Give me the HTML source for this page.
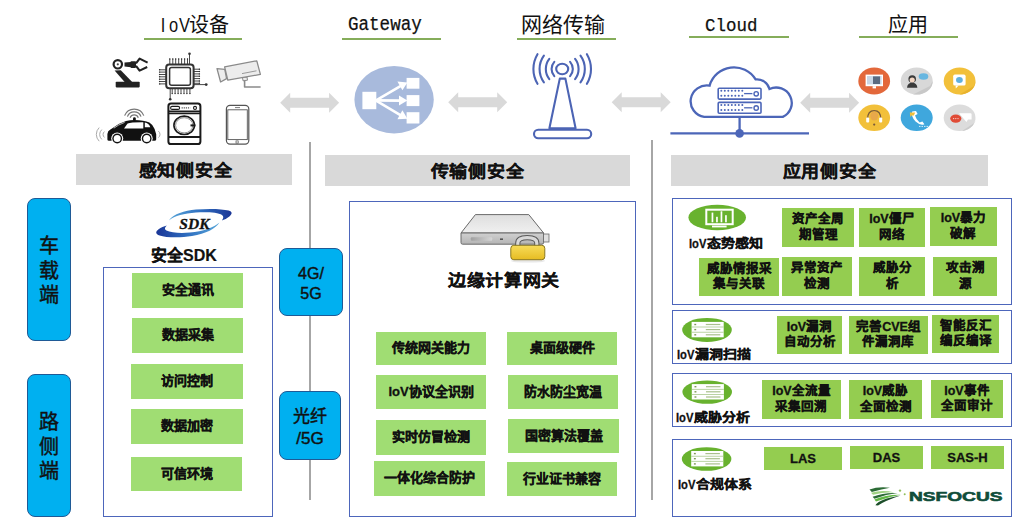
<!DOCTYPE html>
<html lang="zh-CN"><head><meta charset="utf-8">
<style>
*{margin:0;padding:0;box-sizing:border-box}
html,body{width:1024px;height:529px;background:#fff;overflow:hidden}
body{position:relative;font-family:"Liberation Sans",sans-serif;color:#111}
.a{position:absolute}
.hd{position:absolute;font-size:20px;line-height:20px;white-space:nowrap;color:#111;font-weight:500}
.mono{font-family:"Liberation Mono",monospace;-webkit-text-stroke:0.25px #111}
.iov{display:inline-block;white-space:nowrap}
.lv{display:inline-block;width:18px;white-space:nowrap}
.lv b{display:inline-block;transform:scaleX(0.8);transform-origin:0 50%;font-weight:700}
.iov i{font-style:normal;display:inline-block;width:10.2px;text-align:center;transform:scaleX(0.82)}
.gl{position:absolute;height:2px;background:#85ad5a}
.bar{position:absolute;background:#d9d9d9;display:flex;align-items:center;justify-content:center;font-size:18px;font-weight:700;color:#111;letter-spacing:0.8px;-webkit-text-stroke:0.2px #111}
.bar span{display:inline-block;transform:scaleY(0.9);position:relative;top:-1px}
.vl{position:absolute;width:2px;background:#a6a6a6}
.pill{position:absolute;background:#00b0f0;border:1.2px solid #1f5a96;border-radius:8px;display:flex;align-items:center;justify-content:center;text-align:center;color:#111;-webkit-text-stroke:0.45px #111}
.bx{position:absolute;border:1.6px solid #4d66bb}
.g{position:absolute;background:#a0dd73;display:flex;align-items:center;justify-content:center;text-align:center;font-size:13px;font-weight:700;color:#111;white-space:nowrap;-webkit-text-stroke:0.3px #111}
.g:not(.r){padding-bottom:4px}
.r{background:#94cd50;font-size:12.5px;line-height:15.4px}
.lbl{position:absolute;font-size:14px;font-weight:700;white-space:nowrap;color:#111;line-height:14px;transform:scaleY(0.88);-webkit-text-stroke:0.3px #111}
</style></head><body>

<!--SVGSTART-->
<svg class="a" style="left:0;top:0" width="1024" height="529" viewBox="0 0 1024 529">
<polygon fill="#d9d9d9" points="280.2,102.7 290.2,92.7 290.2,97.7 329.1,97.7 329.1,92.7 339.1,102.7 329.1,112.7 329.1,107.7 290.2,107.7 290.2,112.7"/>
<polygon fill="#d9d9d9" points="448.2,102.3 458.2,92.3 458.2,97.3 497.2,97.3 497.2,92.3 507.2,102.3 497.2,112.3 497.2,107.3 458.2,107.3 458.2,112.3"/>
<polygon fill="#d9d9d9" points="611.7,102.3 621.7,92.3 621.7,97.3 660.7,97.3 660.7,92.3 670.7,102.3 660.7,112.3 660.7,107.3 621.7,107.3 621.7,112.3"/>
<polygon fill="#d9d9d9" points="800.2,102.7 810.2,92.7 810.2,97.7 849.1,97.7 849.1,92.7 859.1,102.7 849.1,112.7 849.1,107.7 810.2,107.7 810.2,112.7"/>
<g id="robot" fill="#222" stroke="none">
<circle cx="117.8" cy="64.3" r="4.2" fill="#fff" stroke="#222" stroke-width="2.2"/>
<circle cx="117.8" cy="64.3" r="1.1" fill="#444"/>
<polygon points="124.5,62.6 131,62 131,67.2 124.5,66.6"/>
<rect x="130.5" y="61.3" width="5.5" height="6.6" rx="0.8"/>
<path d="M136,63.3 L139.6,58.6 L147.6,62.6" fill="none" stroke="#222" stroke-width="2.1" stroke-linejoin="round"/>
<path d="M136,65.8 L139.6,70.6 L147.2,67" fill="none" stroke="#222" stroke-width="2.1" stroke-linejoin="round"/>
<polygon points="114.6,70.4 120.8,70.2 132.2,81.9 124.6,82"/>
<rect x="115.7" y="81.8" width="24" height="5.6" rx="0.8"/>
</g>
<g id="cam" stroke="#8a8a8a" stroke-width="1.3" fill="#ececec" stroke-linejoin="round">
<path d="M244.6,78.6 L244.6,87 L260.6,87" fill="none" stroke-width="1.6"/>
<polygon points="242.5,77.6 247,77 247.5,80.2 243,80.8" stroke-width="1"/>
<polygon points="217,68.6 224.8,69.4 226.6,78.6 220.6,82"/>
<polygon points="224.6,66.8 256.8,60.8 260.4,74.4 227.8,80.2"/>
<line x1="242" y1="73.6" x2="256.5" y2="70.8" stroke="#999" stroke-width="1"/>
</g>
<g id="car">
<g fill="none" stroke="#777" stroke-width="1.2">
<path d="M130.1,117.7 A4.4,4.4 0 0 1 138.3,117.7"/>
<path d="M127.4,116.6 A7.3,7.3 0 0 1 141,116.6"/>
<path d="M124.6,115.6 A10.3,10.3 0 0 1 143.8,115.6"/>
</g>
<g fill="none" stroke="#aaa" stroke-width="1">
<path d="M104.4,131.6 A3.8,3.8 0 0 0 104.4,137.4"/>
<path d="M101.8,129.6 A6.7,6.7 0 0 0 101.8,139.4"/>
<path d="M99.2,127.6 A9.5,9.5 0 0 0 99.2,141.2"/>
<path d="M158.4,131.2 A4,4 0 0 1 158.4,137.6"/>
</g>
<path fill="#111" d="M133,120.6 L133,118.6 Q133,117.2 134.4,117.2 Q135.8,117.2 135.8,118.6 L135.8,120.6 Z"/>
<path fill="#111" d="M107.4,139.4 L107.4,134 Q107.6,131 110.4,129.6 L112,128.4 Q118.5,123.4 126,121.1 Q130,120 134.4,120 Q144,120 149.4,122.6 Q153.4,125.2 154.6,129 L156.2,134.2 L156.2,139.4 Q156,140.8 154.6,140.8 L109,140.8 Q107.4,140.8 107.4,139.4 Z"/>
<path fill="#fff" d="M124,128.4 L127.6,123.6 Q131,122.2 143.3,122.3 L143.3,128.4 Z"/>
<path fill="#fff" d="M144.8,122.4 Q148.8,122.8 150.3,127.2 L144.8,127.2 Z"/>
<path fill="none" stroke="#fff" stroke-width="0.7" d="M113.8,128.2 Q118,124.8 124.6,122.4"/>
<circle cx="117.2" cy="138.5" r="6" fill="#fff"/>
<circle cx="117.2" cy="138.5" r="4.9" fill="#111"/>
<circle cx="117.2" cy="138.5" r="3.5" fill="#fff"/>
<circle cx="146.7" cy="138.5" r="6" fill="#fff"/>
<circle cx="146.7" cy="138.5" r="4.9" fill="#111"/>
<circle cx="146.7" cy="138.5" r="3.5" fill="#fff"/>
</g>
<g id="wash" fill="none" stroke="#1a1a1a">
<rect x="168.4" y="103.6" width="32" height="40.4" rx="2.6" stroke-width="2"/>
<line x1="168.4" y1="111.2" x2="200.4" y2="111.2" stroke-width="1.6"/>
<line x1="168.4" y1="113.4" x2="200.4" y2="113.4" stroke-width="1.6"/>
<line x1="168.4" y1="137" x2="200.4" y2="137" stroke-width="1.8"/>
<ellipse cx="184.2" cy="125.3" rx="10.3" ry="9.2" stroke-width="1.6"/>
<ellipse cx="184.2" cy="125.3" rx="8.6" ry="7.6" stroke="#666" stroke-width="0.7"/>
<rect x="190.5" y="124.4" width="5" height="2" fill="#1a1a1a" stroke="none"/>
<rect x="170.6" y="106.4" width="9" height="3" rx="1.5" stroke-width="1.1"/>
<circle cx="195" cy="107.9" r="1.5" stroke-width="1.1"/>
<line x1="181.6" y1="107.9" x2="190.2" y2="107.9" stroke="#555" stroke-width="1.3" stroke-dasharray="1.2,0.9"/>
</g>
<g id="phone" fill="none" stroke="#555" stroke-width="1.2">
<rect x="226.4" y="105.4" width="22.4" height="38.8" rx="3.6"/>
<rect x="227.8" y="109.8" width="19.5" height="29.8" stroke-width="0.9"/>
<line x1="235" y1="107.6" x2="240" y2="107.6" stroke-width="0.8"/>
<rect x="236" y="140.9" width="2.2" height="2.2" stroke-width="0.7"/>
</g>
<g id="gw">
<ellipse cx="394.1" cy="99.7" rx="39.7" ry="33.7" fill="#a8badc"/>
<g fill="#fff">
<rect x="362.4" y="91.8" width="13.9" height="17.4"/>
<rect x="406.6" y="77.9" width="12.8" height="10.8"/>
<rect x="406.6" y="95.1" width="12.8" height="11"/>
<rect x="406.6" y="112.2" width="12.8" height="11.3"/>
</g>
<g stroke="#fff" stroke-width="2.6" fill="none" stroke-linecap="round">
<line x1="376.5" y1="100.2" x2="400" y2="86.4"/>
<line x1="376.5" y1="100.4" x2="400" y2="100.6"/>
<line x1="376.5" y1="100.8" x2="400" y2="114.8"/>
</g>
<g fill="#fff">
<polygon points="407.4,82.6 397.4,81.4 402.4,90.2"/>
<polygon points="407.4,100.6 399,95.6 399,105.6"/>
<polygon points="407.4,118.8 402.4,110.2 397.4,119.2"/>
</g>
</g>
<g id="apps">
<ellipse cx="874.2" cy="81" rx="15.9" ry="13.6" fill="#e3683b"/>
<rect x="865.6" y="74.6" width="17.4" height="11.6" fill="#fff"/>
<rect x="867" y="76" width="14.6" height="8.4" fill="#c9d7e6"/>
<rect x="873" y="76.4" width="7" height="7.6" fill="#5a6a80"/>
<rect x="872.6" y="86.2" width="3.4" height="2.2" fill="#fff"/>
<ellipse cx="916.7" cy="81" rx="16" ry="13.6" fill="#d8d8d8"/>
<path d="M913,94.6 L930,86 L932.7,81 A16,13.6 0 0 1 920,94.4 Z" fill="#c8c8c8"/>
<ellipse cx="923.5" cy="76.5" rx="4.8" ry="3.2" fill="#67b6e0"/>
<path d="M907,87.8 Q907.5,83 912.2,82.6 Q916.8,83 917.4,87.8 Z" fill="#3a3a3a"/>
<circle cx="912.2" cy="79" r="3.8" fill="#3a3a3a"/>
<ellipse cx="912.2" cy="80" rx="2.6" ry="2.5" fill="#f3d7c4"/>
<ellipse cx="959.6" cy="81" rx="15.9" ry="13.6" fill="#f2c03a"/>
<path d="M959.6,94.6 L974,86 L975.5,81 A15.9,13.6 0 0 1 962,94.4 Z" fill="#e8b22c"/>
<rect x="953.2" y="74.6" width="12.4" height="11" rx="1.6" fill="#fff"/>
<polygon points="955.6,85.6 958.6,85.6 955.8,88.4" fill="#fff"/>
<ellipse cx="959.4" cy="80" rx="3.4" ry="2.9" fill="#5fb0de"/>
<ellipse cx="874.2" cy="117.8" rx="15.9" ry="13.2" fill="#f2c03a"/>
<path d="M867.6,119 Q867.6,110.6 874.2,110.6 Q880.8,110.6 880.8,119" fill="none" stroke="#7a5a3a" stroke-width="1.3"/>
<rect x="866.2" y="117.6" width="3" height="5" rx="1" fill="#fff"/>
<rect x="879.2" y="117.6" width="3" height="5" rx="1" fill="#fff"/>
<ellipse cx="874.2" cy="116" rx="4" ry="4.6" fill="#e8a84a"/>
<circle cx="874.2" cy="124.6" r="1.1" fill="#7a5a3a"/>
<ellipse cx="916.7" cy="117.8" rx="16" ry="13.2" fill="#3fa7dd"/>
<path d="M912.2,111.4 Q910.6,116 915.6,121.6 Q920.4,126 924.4,124.2 L922.4,121.6 L919.6,122.4 Q916.2,119.8 915,115.6 L917.6,114 L916,111 Z" fill="#fff"/>
<path d="M909.8,112.6 L915.2,112.6 L913.8,115.6 L911.6,115.6 L910.4,117 Z" fill="#f2c03a"/>
<line x1="919" y1="126.4" x2="928" y2="126.4" stroke="#fff" stroke-width="0.8" stroke-dasharray="1.5,1"/>
<ellipse cx="959.6" cy="117.8" rx="15.9" ry="13.2" fill="#dcdcdc"/>
<path d="M962,131 L975,122.6 L975.5,117.8 A15.9,13.2 0 0 1 964,130.8 Z" fill="#cbcbcb"/>
<path d="M959,113.2 L970.6,113.2 Q971.6,113.2 971.6,114.4 L971.6,119.6 L968,119.6 L966.4,122 Z" fill="#fff"/>
<ellipse cx="955.8" cy="118.6" rx="5.6" ry="4.2" fill="#e04b36"/>
<g fill="#f8d0c8"><circle cx="953.6" cy="118.6" r="0.7"/><circle cx="955.8" cy="118.6" r="0.7"/><circle cx="958" cy="118.6" r="0.7"/></g>
</g>
<g id="srv">
<defs>
<linearGradient id="gtop" x1="0" y1="0" x2="0" y2="1"><stop offset="0" stop-color="#dedede"/><stop offset="1" stop-color="#f0f0f0"/></linearGradient>
<linearGradient id="gfr" x1="0" y1="0" x2="0" y2="1"><stop offset="0" stop-color="#d0d0d0"/><stop offset="1" stop-color="#b4b4b4"/></linearGradient>
<linearGradient id="glk" x1="0" y1="0" x2="0" y2="1"><stop offset="0" stop-color="#f7dc5a"/><stop offset="1" stop-color="#e6bc22"/></linearGradient>
<linearGradient id="gsl" x1="0" y1="0" x2="1" y2="0"><stop offset="0" stop-color="#a0a0a0"/><stop offset="1" stop-color="#d6d6d6"/></linearGradient>
</defs>
<path d="M475.4,214.6 L528.8,214.6 L543.6,233 L461,233 Z" fill="url(#gtop)" stroke="#6a6a6a" stroke-width="1" stroke-linejoin="round"/>
<path d="M461,233 L543.6,233 L543.6,242.6 Q543.6,244.2 542,244.2 L462.6,244.2 Q461,244.2 461,242.6 Z" fill="url(#gfr)" stroke="#6a6a6a" stroke-width="1"/>
<rect x="543.6" y="234" width="5.4" height="8" fill="#e0e0e0" stroke="#6a6a6a" stroke-width="0.8"/>
<rect x="470.8" y="237.2" width="21.4" height="3.6" rx="1" fill="url(#gsl)"/>
<rect x="500" y="238.4" width="3" height="1.6" fill="#555"/>
<path d="M517.8,246 L517.8,243 Q517.8,237.6 527.2,237.6 Q536.8,237.6 536.8,243 L536.8,246" fill="none" stroke="#5a5a5a" stroke-width="5.2"/>
<path d="M517.8,246 L517.8,243 Q517.8,237.6 527.2,237.6 Q536.8,237.6 536.8,243 L536.8,246" fill="none" stroke="#d8d8d8" stroke-width="3.2"/>
<ellipse cx="528" cy="261" rx="17" ry="1.6" fill="#d8d8d8" opacity="0.6"/>
<rect x="510.8" y="245.3" width="34" height="14.4" rx="3" fill="url(#glk)" stroke="#8a7820" stroke-width="1"/>
</g>
<g id="sdk">
<defs>
<linearGradient id="gsw1" x1="168" y1="0" x2="232" y2="0" gradientUnits="userSpaceOnUse"><stop offset="0" stop-color="#5aa8da"/><stop offset="0.5" stop-color="#2f6fc0"/><stop offset="1" stop-color="#1a3596"/></linearGradient>
<linearGradient id="gsw2" x1="156" y1="0" x2="220" y2="0" gradientUnits="userSpaceOnUse"><stop offset="0" stop-color="#1a3596"/><stop offset="0.5" stop-color="#2f6fc0"/><stop offset="1" stop-color="#5aa8da"/></linearGradient>
</defs>
<path fill="url(#gsw1)" d="M168.8,220.4 C174,214 184,210.6 196,209.6 C208,208.6 222,208.8 228.6,210.6 C232.6,211.8 232.4,214 229.4,216.4 C227,218.2 224.4,219.6 221.8,220.6 C223.4,218.6 224,216.6 222,215 C218,212.4 206,212 196,212.6 C184,213.4 175,216 168.8,220.4 Z"/>
<path fill="url(#gsw2)" d="M219.4,222.4 C216,228.4 206,233.6 192,236 C180,238 166,237.6 159.6,235.4 C155.4,234 155.2,231.6 158.6,229.2 C161,227.6 163.8,226.4 166.8,225.6 C164.6,227.6 164.2,229.4 166.4,230.6 C171,232.8 180,233.4 190,232.6 C203,231.4 214,227.4 219.4,222.4 Z"/>
<text x="194.4" y="228.6" text-anchor="middle" font-family="Liberation Serif" font-style="italic" font-weight="700" font-size="15.5" fill="#111" stroke="#111" stroke-width="0.3">SDK</text>
</g>
<g id="icons">
<ellipse cx="717.2" cy="217.5" rx="28.8" ry="12.8" fill="#68b22e"/>
<rect x="706.3" y="209.7" width="26.4" height="14.5" fill="none" stroke="#fff" stroke-width="2"/>
<rect x="712" y="225.6" width="14.6" height="1.8" fill="#fff"/>
<g fill="#fff"><rect x="711.6" y="212.6" width="1.7" height="9.7"/><rect x="716.1" y="216.8" width="1.7" height="5.5"/><rect x="720.6" y="211.3" width="1.7" height="11"/><rect x="725.1" y="215.2" width="1.7" height="7.1"/></g>
</g>
<g id="nsf">
<path d="M869.5,489.6 Q878,486.4 890,487.8 Q882,489.2 871.8,492 Z" fill="#2b6b35"/>
<path d="M871,492.8 Q882,489.4 894.5,492.4 Q884,491.8 873,494.8 Z" fill="#9fd282"/>
<path d="M872.6,496.8 Q884,492.2 897.6,493 Q886,494.2 874.4,498.8 Z" fill="#2b6b35"/>
<path d="M874.4,499.6 Q886,494.4 900.8,494.8 Q888,496.8 876,501.6 Z" fill="#62b845"/>
<path d="M875.4,505.2 Q879,499 900.6,495.4 Q885,500.6 878,505.4 Z" fill="#1d4f2a"/>
<circle cx="900" cy="490.6" r="1.2" fill="#8fbf5a"/>
<circle cx="904.7" cy="494.3" r="1" fill="#8fbf5a"/>
</g>
<g id="chip" stroke="#333" fill="none"><rect x="166.2" y="64.6" width="27.4" height="23.6" rx="3" stroke-width="2"/><rect x="169.6" y="67.6" width="20.8" height="17.6" rx="2" stroke-width="1.5"/><line x1="169.8" y1="58.6" x2="169.8" y2="64.6" stroke-width="0.9"/><circle cx="169.8" cy="59" r="0.7" fill="#333" stroke="none"/><line x1="172.8" y1="58.6" x2="172.8" y2="64.6" stroke-width="0.9"/><circle cx="172.8" cy="59" r="0.7" fill="#333" stroke="none"/><line x1="175.7" y1="58.6" x2="175.7" y2="64.6" stroke-width="0.9"/><circle cx="175.7" cy="59" r="0.7" fill="#333" stroke="none"/><line x1="178.7" y1="58.6" x2="178.7" y2="64.6" stroke-width="0.9"/><circle cx="178.7" cy="59" r="0.7" fill="#333" stroke="none"/><line x1="181.6" y1="58.6" x2="181.6" y2="64.6" stroke-width="0.9"/><circle cx="181.6" cy="59" r="0.7" fill="#333" stroke="none"/><line x1="184.6" y1="58.6" x2="184.6" y2="64.6" stroke-width="0.9"/><circle cx="184.6" cy="59" r="0.7" fill="#333" stroke="none"/><line x1="187.5" y1="58.6" x2="187.5" y2="64.6" stroke-width="0.9"/><circle cx="187.5" cy="59" r="0.7" fill="#333" stroke="none"/><line x1="172.2" y1="88.2" x2="172.2" y2="93.8" stroke-width="0.9"/><circle cx="172.2" cy="93.6" r="0.7" fill="#333" stroke="none"/><line x1="175.1" y1="88.2" x2="175.1" y2="93.8" stroke-width="0.9"/><circle cx="175.1" cy="93.6" r="0.7" fill="#333" stroke="none"/><line x1="178.1" y1="88.2" x2="178.1" y2="93.8" stroke-width="0.9"/><circle cx="178.1" cy="93.6" r="0.7" fill="#333" stroke="none"/><line x1="181.0" y1="88.2" x2="181.0" y2="93.8" stroke-width="0.9"/><circle cx="181.0" cy="93.6" r="0.7" fill="#333" stroke="none"/><line x1="184.0" y1="88.2" x2="184.0" y2="93.8" stroke-width="0.9"/><circle cx="184.0" cy="93.6" r="0.7" fill="#333" stroke="none"/><line x1="186.9" y1="88.2" x2="186.9" y2="93.8" stroke-width="0.9"/><circle cx="186.9" cy="93.6" r="0.7" fill="#333" stroke="none"/><line x1="189.9" y1="88.2" x2="189.9" y2="93.8" stroke-width="0.9"/><circle cx="189.9" cy="93.6" r="0.7" fill="#333" stroke="none"/><line x1="159.2" y1="69.8" x2="166.2" y2="69.8" stroke-width="0.9"/><circle cx="159.6" cy="69.8" r="0.7" fill="#333" stroke="none"/><line x1="159.2" y1="72.1" x2="166.2" y2="72.1" stroke-width="0.9"/><circle cx="159.6" cy="72.1" r="0.7" fill="#333" stroke="none"/><line x1="159.2" y1="74.5" x2="166.2" y2="74.5" stroke-width="0.9"/><circle cx="159.6" cy="74.5" r="0.7" fill="#333" stroke="none"/><line x1="159.2" y1="76.8" x2="166.2" y2="76.8" stroke-width="0.9"/><circle cx="159.6" cy="76.8" r="0.7" fill="#333" stroke="none"/><line x1="159.2" y1="79.2" x2="166.2" y2="79.2" stroke-width="0.9"/><circle cx="159.6" cy="79.2" r="0.7" fill="#333" stroke="none"/><line x1="159.2" y1="81.5" x2="166.2" y2="81.5" stroke-width="0.9"/><circle cx="159.6" cy="81.5" r="0.7" fill="#333" stroke="none"/><line x1="159.2" y1="83.9" x2="166.2" y2="83.9" stroke-width="0.9"/><circle cx="159.6" cy="83.9" r="0.7" fill="#333" stroke="none"/><line x1="193.6" y1="69.2" x2="199.8" y2="69.2" stroke-width="0.9"/><circle cx="199.4" cy="69.2" r="0.7" fill="#333" stroke="none"/><line x1="193.6" y1="71.5" x2="199.8" y2="71.5" stroke-width="0.9"/><circle cx="199.4" cy="71.5" r="0.7" fill="#333" stroke="none"/><line x1="193.6" y1="73.9" x2="199.8" y2="73.9" stroke-width="0.9"/><circle cx="199.4" cy="73.9" r="0.7" fill="#333" stroke="none"/><line x1="193.6" y1="76.2" x2="199.8" y2="76.2" stroke-width="0.9"/><circle cx="199.4" cy="76.2" r="0.7" fill="#333" stroke="none"/><line x1="193.6" y1="78.6" x2="199.8" y2="78.6" stroke-width="0.9"/><circle cx="199.4" cy="78.6" r="0.7" fill="#333" stroke="none"/><line x1="193.6" y1="81.0" x2="199.8" y2="81.0" stroke-width="0.9"/><circle cx="199.4" cy="81.0" r="0.7" fill="#333" stroke="none"/><line x1="193.6" y1="83.3" x2="199.8" y2="83.3" stroke-width="0.9"/><circle cx="199.4" cy="83.3" r="0.7" fill="#333" stroke="none"/><line x1="189.5" y1="54" x2="189.5" y2="64.6" stroke-width="0.9"/><circle cx="189.5" cy="53.8" r="1.3" fill="#333" stroke="none"/><line x1="193.6" y1="84.6" x2="206" y2="84.6" stroke-width="0.9"/><circle cx="206.2" cy="84.6" r="1.4" fill="#333" stroke="none"/><line x1="170.2" y1="88.2" x2="170.2" y2="99" stroke-width="0.9"/><circle cx="170.2" cy="99.2" r="1.3" fill="#333" stroke="none"/></g>
<g id="tower" fill="none" stroke="#4c64b4" stroke-width="2.1" stroke-linecap="round"><ellipse cx="562.2" cy="69" rx="6" ry="5.2"/><path d="M554.3,61.9 A10.6,10.6 0 0 0 554.3,76.1"/><path d="M570.1,61.9 A10.6,10.6 0 0 1 570.1,76.1"/><path d="M549.3,58.9 A16.4,16.4 0 0 0 549.3,79.1"/><path d="M575.1,58.9 A16.4,16.4 0 0 1 575.1,79.1"/><path d="M543.9,55.7 A22.6,22.6 0 0 0 543.9,82.3"/><path d="M580.5,55.7 A22.6,22.6 0 0 1 580.5,82.3"/><path d="M537.5,54.2 A28.8,28.8 0 0 0 537.5,83.8"/><path d="M586.9,54.2 A28.8,28.8 0 0 1 586.9,83.8"/><polygon points="559.8,78.6 565.4,78.6 575.6,128.2 549.4,128.2" stroke-linejoin="round"/><rect x="534" y="129.8" width="57.2" height="8.4" rx="4.2"/></g>
<g id="cloud" fill="none" stroke="#4c66b8" stroke-width="2.3"><path d="M704.2,116.9 A16.2,15.8 0 0 1 709.6,85.6 A25.4,25.4 0 0 1 755.6,79.4 A13,13 0 0 1 769.5,89 A15.5,15.3 0 1 1 782.8,116.9 Z" fill="#fff"/><line x1="739.6" y1="117" x2="739.6" y2="133" /><line x1="670.4" y1="133.4" x2="809" y2="133.4" /><circle cx="739.6" cy="133.4" r="4.3" fill="#4c66b8" stroke="none"/><rect x="718.2" y="88.2" width="42.8" height="10.9" rx="1" stroke-width="1.6"/><circle cx="721.3" cy="90.8" r="1" fill="#4c66b8" stroke="none"/><circle cx="724.8" cy="90.8" r="1" fill="#4c66b8" stroke="none"/><circle cx="728.3" cy="90.8" r="1" fill="#4c66b8" stroke="none"/><circle cx="731.8" cy="90.8" r="1" fill="#4c66b8" stroke="none"/><circle cx="735.3" cy="90.8" r="1" fill="#4c66b8" stroke="none"/><circle cx="738.8" cy="90.8" r="1" fill="#4c66b8" stroke="none"/><circle cx="742.3" cy="90.8" r="1" fill="#4c66b8" stroke="none"/><circle cx="721.3" cy="95.7" r="1" fill="#4c66b8" stroke="none"/><circle cx="724.8" cy="95.7" r="1" fill="#4c66b8" stroke="none"/><circle cx="728.3" cy="95.7" r="1" fill="#4c66b8" stroke="none"/><circle cx="731.8" cy="95.7" r="1" fill="#4c66b8" stroke="none"/><circle cx="735.3" cy="95.7" r="1" fill="#4c66b8" stroke="none"/><circle cx="738.8" cy="95.7" r="1" fill="#4c66b8" stroke="none"/><circle cx="742.3" cy="95.7" r="1" fill="#4c66b8" stroke="none"/><line x1="744.1" y1="93.6" x2="752.4" y2="93.6" stroke-width="1.3"/><circle cx="756.2" cy="93.8" r="2.2" stroke-width="1.4"/><rect x="718.2" y="102.4" width="42.8" height="10.9" rx="1" stroke-width="1.6"/><circle cx="721.3" cy="105.0" r="1" fill="#4c66b8" stroke="none"/><circle cx="724.8" cy="105.0" r="1" fill="#4c66b8" stroke="none"/><circle cx="728.3" cy="105.0" r="1" fill="#4c66b8" stroke="none"/><circle cx="731.8" cy="105.0" r="1" fill="#4c66b8" stroke="none"/><circle cx="735.3" cy="105.0" r="1" fill="#4c66b8" stroke="none"/><circle cx="738.8" cy="105.0" r="1" fill="#4c66b8" stroke="none"/><circle cx="742.3" cy="105.0" r="1" fill="#4c66b8" stroke="none"/><circle cx="721.3" cy="109.9" r="1" fill="#4c66b8" stroke="none"/><circle cx="724.8" cy="109.9" r="1" fill="#4c66b8" stroke="none"/><circle cx="728.3" cy="109.9" r="1" fill="#4c66b8" stroke="none"/><circle cx="731.8" cy="109.9" r="1" fill="#4c66b8" stroke="none"/><circle cx="735.3" cy="109.9" r="1" fill="#4c66b8" stroke="none"/><circle cx="738.8" cy="109.9" r="1" fill="#4c66b8" stroke="none"/><circle cx="742.3" cy="109.9" r="1" fill="#4c66b8" stroke="none"/><line x1="744.1" y1="107.8" x2="752.4" y2="107.8" stroke-width="1.3"/><circle cx="756.2" cy="108.0" r="2.2" stroke-width="1.4"/></g>
<g><ellipse cx="707.0" cy="329.9" rx="24.8" ry="12.0" fill="#68b22e"/><rect x="691.6" y="321.9" width="32.1" height="15.4" fill="#fff"/><rect x="694.3" y="323.8" width="1.9" height="1.4" fill="#7f9a55"/><rect x="705.8" y="323.9" width="14.5" height="1.2" fill="#a9c08c"/><rect x="691.6" y="326.6" width="32.1" height="0.8" fill="#a9c98c"/><rect x="694.3" y="328.9" width="1.9" height="1.4" fill="#7f9a55"/><rect x="705.8" y="329.0" width="14.5" height="1.2" fill="#a9c08c"/><rect x="691.6" y="331.8" width="32.1" height="0.8" fill="#a9c98c"/><rect x="694.3" y="334.1" width="1.9" height="1.4" fill="#7f9a55"/><rect x="705.8" y="334.2" width="14.5" height="1.2" fill="#a9c08c"/></g>
<g><ellipse cx="707.2" cy="392.1" rx="24.8" ry="11.7" fill="#68b22e"/><rect x="691.8" y="384.1" width="32.1" height="15.4" fill="#fff"/><rect x="694.5" y="386.0" width="1.9" height="1.4" fill="#7f9a55"/><rect x="706.0" y="386.1" width="14.5" height="1.2" fill="#a9c08c"/><rect x="691.8" y="388.9" width="32.1" height="0.8" fill="#a9c98c"/><rect x="694.5" y="391.1" width="1.9" height="1.4" fill="#7f9a55"/><rect x="706.0" y="391.2" width="14.5" height="1.2" fill="#a9c08c"/><rect x="691.8" y="394.0" width="32.1" height="0.8" fill="#a9c98c"/><rect x="694.5" y="396.3" width="1.9" height="1.4" fill="#7f9a55"/><rect x="706.0" y="396.4" width="14.5" height="1.2" fill="#a9c08c"/></g>
<g><ellipse cx="706.6" cy="459.0" rx="24.8" ry="11.8" fill="#68b22e"/><rect x="691.2" y="451.0" width="32.1" height="15.4" fill="#fff"/><rect x="693.9" y="452.9" width="1.9" height="1.4" fill="#7f9a55"/><rect x="705.4" y="453.0" width="14.5" height="1.2" fill="#a9c08c"/><rect x="691.2" y="455.8" width="32.1" height="0.8" fill="#a9c98c"/><rect x="693.9" y="458.0" width="1.9" height="1.4" fill="#7f9a55"/><rect x="705.4" y="458.1" width="14.5" height="1.2" fill="#a9c08c"/><rect x="691.2" y="460.9" width="32.1" height="0.8" fill="#a9c98c"/><rect x="693.9" y="463.2" width="1.9" height="1.4" fill="#7f9a55"/><rect x="705.4" y="463.3" width="14.5" height="1.2" fill="#a9c08c"/></g>
</svg>
<!--SVGEND-->
<!-- headers -->
<div class="hd" style="left:158px;top:15px"><span class="iov"><i>I</i><i>o</i><i>V</i></span>设备</div>
<div class="gl" style="left:144px;top:38px;width:98px"></div>
<div class="hd mono" style="left:348px;top:15px;transform:scaleX(0.878);transform-origin:0 0">Gateway</div>
<div class="gl" style="left:342px;top:38px;width:99px"></div>
<div class="hd" style="left:521px;top:14.5px;font-size:21px">网络传输</div>
<div class="gl" style="left:517px;top:38px;width:99px"></div>
<div class="hd mono" style="left:704.5px;top:15.5px;font-size:19px;transform:scaleX(0.92);transform-origin:0 0">Cloud</div>
<div class="gl" style="left:689px;top:36px;width:100px"></div>
<div class="hd" style="left:888px;top:15px">应用</div>
<div class="gl" style="left:859px;top:36px;width:99px"></div>

<!-- gray bars -->
<div class="bar" style="left:76px;top:154px;width:216px;height:31px"><span style="left:1.5px">感知侧安全</span></div>
<div class="bar" style="left:325px;top:155px;width:305px;height:31px"><span>传输侧安全</span></div>
<div class="bar" style="left:671px;top:155px;width:317px;height:31px"><span>应用侧安全</span></div>

<!-- vertical lines -->
<div class="vl" style="left:309px;top:142px;height:358px"></div>
<div class="vl" style="left:651px;top:140px;height:360px"></div>

<!-- pills -->
<div class="pill" style="left:27px;top:198px;width:44px;height:143px;font-size:20px;line-height:24.6px;font-weight:500;padding-top:3px">车<br>载<br>端</div>
<div class="pill" style="left:27px;top:374px;width:44px;height:143px;font-size:20px;line-height:24.8px;font-weight:500;padding-top:3px">路<br>侧<br>端</div>

<!-- SDK -->
<div class="a" style="left:151px;top:242px;font-size:16px;font-weight:700;white-space:nowrap;-webkit-text-stroke:0.2px #111">安全SDK</div>
<div class="bx" style="left:103px;top:267px;width:170px;height:250px"></div>
<div class="g" style="left:132px;top:273px;width:111px;height:35px">安全通讯</div>
<div class="g" style="left:132px;top:318px;width:111px;height:35px">数据采集</div>
<div class="g" style="left:131px;top:364px;width:112px;height:35px">访问控制</div>
<div class="g" style="left:131px;top:409px;width:112px;height:35px">数据加密</div>
<div class="g" style="left:131px;top:457px;width:111px;height:34px">可信环境</div>

<!-- 4G boxes -->
<div class="pill" style="left:279px;top:248px;width:64px;height:68px;font-size:16px;line-height:20.5px;padding-top:4px">4G/<br>5G</div>
<div class="pill" style="left:279px;top:391px;width:62px;height:69px;font-size:17px;line-height:22px;padding-top:4px">光纤<br>/5G</div>

<!-- middle box -->
<div class="bx" style="left:349px;top:201px;width:287px;height:316px"></div>
<div class="a" style="left:448px;top:267.3px;font-size:18px;font-weight:700;white-space:nowrap;letter-spacing:0.7px;transform:scaleY(0.9);transform-origin:0 0;-webkit-text-stroke:0.2px #111">边缘计算网关</div>
<div class="g" style="left:376px;top:332px;width:110px;height:33px">传统网关能力</div>
<div class="g" style="left:376px;top:375px;width:110px;height:34px">IoV协议全识别</div>
<div class="g" style="left:376px;top:420px;width:110px;height:35px">实时仿冒检测</div>
<div class="g" style="left:374px;top:461px;width:111px;height:35px">一体化综合防护</div>
<div class="g" style="left:507px;top:332px;width:110px;height:33px">桌面级硬件</div>
<div class="g" style="left:508px;top:375px;width:110px;height:34px">防水防尘宽温</div>
<div class="g" style="left:508px;top:419px;width:111px;height:34px">国密算法覆盖</div>
<div class="g" style="left:507px;top:462px;width:110px;height:34px">行业证书兼容</div>

<!-- right boxes -->
<div class="bx" style="left:672px;top:198px;width:340px;height:107px"></div>
<div class="bx" style="left:672px;top:310px;width:340px;height:54px"></div>
<div class="bx" style="left:672px;top:373px;width:340px;height:54px"></div>
<div class="bx" style="left:672px;top:439px;width:340px;height:78px"></div>

<div class="lbl" style="left:689px;top:237px"><span class="lv"><b>IoV</b></span>态势感知</div>
<div class="lbl" style="left:677px;top:348px"><span class="lv"><b>IoV</b></span>漏洞扫描</div>
<div class="lbl" style="left:676px;top:411px"><span class="lv"><b>IoV</b></span>威胁分析</div>
<div class="lbl" style="left:678px;top:478px"><span class="lv"><b>IoV</b></span>合规体系</div>

<div class="g r" style="left:782px;top:208px;width:72px;height:39px">资产全周<br>期管理</div>
<div class="g r" style="left:859px;top:208px;width:66px;height:39px">IoV僵尸<br>网络</div>
<div class="g r" style="left:930px;top:207px;width:67px;height:39px">IoV暴力<br>破解</div>
<div class="g r" style="left:699px;top:258px;width:80px;height:38px">威胁情报采<br>集与关联</div>
<div class="g r" style="left:782px;top:257px;width:70px;height:39px">异常资产<br>检测</div>
<div class="g r" style="left:859px;top:257px;width:66px;height:39px">威胁分<br>析</div>
<div class="g r" style="left:933px;top:257px;width:64px;height:39px">攻击溯<br>源</div>

<div class="g r" style="left:777px;top:316px;width:65px;height:38px">IoV漏洞<br>自动分析</div>
<div class="g r" style="left:849px;top:316px;width:79px;height:38px">完善CVE组<br>件漏洞库</div>
<div class="g r" style="left:932px;top:315px;width:67px;height:38px">智能反汇<br>编反编译</div>

<div class="g r" style="left:762px;top:380px;width:79px;height:39px">IoV全流量<br>采集回溯</div>
<div class="g r" style="left:849px;top:380px;width:73px;height:39px">IoV威胁<br>全面检测</div>
<div class="g r" style="left:931px;top:380px;width:72px;height:38px">IoV事件<br>全面审计</div>

<div class="g r" style="left:764px;top:447px;width:78px;height:23px;font-size:13px">LAS</div>
<div class="g r" style="left:850px;top:446px;width:73px;height:23px;font-size:13px">DAS</div>
<div class="g r" style="left:931px;top:446px;width:73px;height:23px;font-size:13px">SAS-H</div>

<div class="a" style="left:909px;top:490px;font-size:13px;line-height:13px;font-weight:700;color:#0f4d3a;white-space:nowrap;transform:scaleX(1.47);transform-origin:0 0;-webkit-text-stroke:0.6px #0f4d3a">NSFOCUS</div>
</body></html>
